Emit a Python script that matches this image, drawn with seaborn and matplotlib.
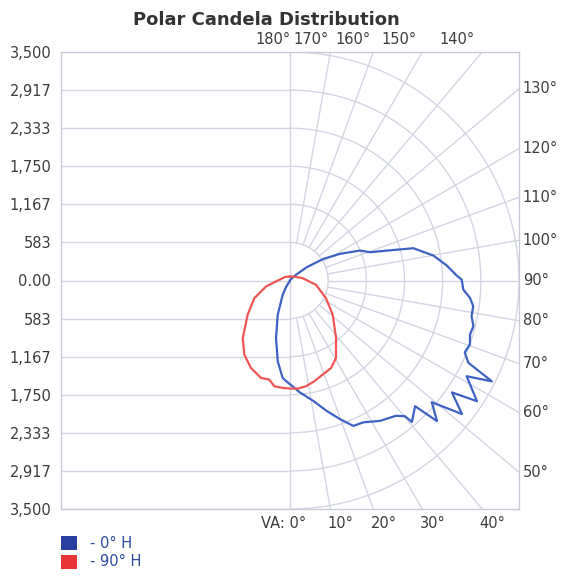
import numpy as np
import pandas as pd
import seaborn as sns
import matplotlib.pyplot as plt
from matplotlib.patches import Patch

# vertical angle (deg, 0 = straight down, negative = opposite half plane) and candela
va_0h = [-36, -31, -27, -19.7, -13.6, -8.6, -4.3, 0, 5.1, 10.9, 15.7, 19.8, 23.5,
         27.3, 32.6, 38, 40.2, 40.7, 44.8, 46.2, 49.3, 52.1, 55.3, 57.1, 61.5, 63.4,
         65.2, 67.6, 70.4, 73.3, 76, 78.9, 82, 84.5, 87, 90.3, 91.7, 95.5, 99.9,
         104.7, 107.2, 109.5, 113.2, 118.1, 123, 128.5, 135, 142, 146]
cd_0h = [0, 120, 245, 556, 908, 1252, 1498, 1590, 1722, 1878, 2076, 2257, 2429,
         2445, 2552, 2630, 2721, 2858, 2713, 3113, 2858, 3332, 3011, 3404, 3072, 3451,
         3002, 2889, 2919, 2873, 2889, 2828, 2828, 2763, 2652, 2624, 2549, 2406, 2224,
         1949, 1547, 1298, 1165, 867, 607, 326, 110, 20, 0]

va_90h = [-180, -150, -120, -93.7, -76, -63.6, -51, -39.3, -31.6, -24, -16.5, -11.8,
          -8.4, -3.9, 0, 4.1, 8.6, 13.5, 19.1, 25.1, 30.6, 38.6, 51.2, 63.8, 80.6,
          100.3, 120, 150, 180]
cd_90h = [60, 70, 100, 164, 378, 608, 833, 1140, 1333, 1467, 1557, 1550,
          1638, 1649, 1655, 1660, 1638, 1588, 1525, 1480, 1380, 1128, 838, 613, 403,
          197, 110, 70, 60]

ring_values = [583, 1167, 1750, 2333, 2917, 3500]
y_ticks = [-3500, -2917, -2333, -1750, -1167, -583, 0, 583, 1167, 1750, 2333, 2917, 3500]
y_labels = ['3,500', '2,917', '2,333', '1,750', '1,167', '583', '0.00',
            '583', '1,167', '1,750', '2,333', '2,917', '3,500']
spoke_angles = list(range(10, 180, 10))
label_angles = list(range(0, 190, 10))

blue = '#3d62c4'
red = '#f05555'
grid_c = '#d3d6e2'
text_c = '#3c3c3c'

sns.set_style('white')
plt.rcParams['font.family'] = ['DejaVu Sans']

def to_xy(va, cd):
    t = np.radians(va)
    cd = np.asarray(cd, dtype=float)
    return cd * np.sin(t), -cd * np.cos(t)

x0, y0 = to_xy(va_0h, cd_0h)
x9, y9 = to_xy(va_90h, cd_90h)
df = pd.concat([
    pd.DataFrame({'x': x0, 'y': y0, 'plane': '0° H'}),
    pd.DataFrame({'x': x9, 'y': y9, 'plane': '90° H'}),
], ignore_index=True)

fig = plt.figure(figsize=(5.63, 5.77), dpi=100)
ax = fig.add_axes([61 / 563, 68 / 577, 458 / 563, 457 / 577])
R = 3500

# left half: horizontal lines, right half: polar grid
for yv in y_ticks:
    ax.plot([-R, 0], [yv, yv], color=grid_c, lw=1, zorder=1)
ax.plot([0, 0], [-R, R], color=grid_c, lw=1, zorder=1)
th = np.linspace(0, np.pi, 200)
for rv in ring_values:
    ax.plot(rv * np.sin(th), -rv * np.cos(th), color=grid_c, lw=1, zorder=1)
for a in spoke_angles:
    t = np.radians(a)
    s, c = np.sin(t), -np.cos(t)
    r_end = min(R / abs(s), R / abs(c) if abs(c) > 1e-9 else 1e9)
    ax.plot([ring_values[0] * s, r_end * s], [ring_values[0] * c, r_end * c],
            color=grid_c, lw=1, zorder=1)

sns.lineplot(data=df, x='x', y='y', hue='plane', estimator=None, sort=False,
             palette=[blue, red], lw=1.6, legend=False, ax=ax, zorder=3)

ax.set_xlim(-R, R)
ax.set_ylim(-R, R)
ax.set_yticks(y_ticks)
ax.set_yticklabels(y_labels, color=text_c, fontsize=10.5)
ax.set_xticks([])
ax.tick_params(axis='y', length=0, pad=7)
ax.set_xlabel('')
ax.set_ylabel('')
for sp in ax.spines.values():
    sp.set_color('#c9ccd8')
    sp.set_linewidth(1)

# angle labels around the box
fs = 10.5
for a in label_angles:
    t = np.radians(a)
    s, c = np.sin(t), -np.cos(t)
    lab = f'{a}°'
    if a == 0:
        ax.text(250, -R - 110, 'VA: 0°', ha='right', va='top', fontsize=fs, color=text_c)
    elif a <= 40:
        xe = R * s / abs(c)
        ax.text(xe - 40, -R - 110, lab, ha='left', va='top', fontsize=fs, color=text_c)
    elif a >= 140:
        xe = R * s / abs(c)
        ax.text(xe + 10 - (180 - a) * 3, R + 80, lab, ha='right', va='bottom',
                fontsize=fs, color=text_c)
    else:
        ye = R * c / s
        ax.text(R + 60, ye, lab, ha='left', va='center', fontsize=fs, color=text_c)

fig.text(266 / 563, 1 - 20 / 577, 'Polar Candela Distribution', ha='center', va='center',
         fontsize=13, fontweight='bold', color='#333333')

handles = [Patch(facecolor='#2b3f9e', edgecolor='none'), Patch(facecolor='#e83535', edgecolor='none')]
fig.legend(handles, ['- 0° H', '- 90° H'], loc='upper left', bbox_to_anchor=(55 / 563, 1 - 530 / 577),
           frameon=False, handlelength=1.1, handleheight=1.1, handletextpad=0.9,
           labelspacing=0.25, fontsize=10.5, labelcolor='#2c4aa0', borderaxespad=0)

fig.savefig('out.png', dpi=100)
